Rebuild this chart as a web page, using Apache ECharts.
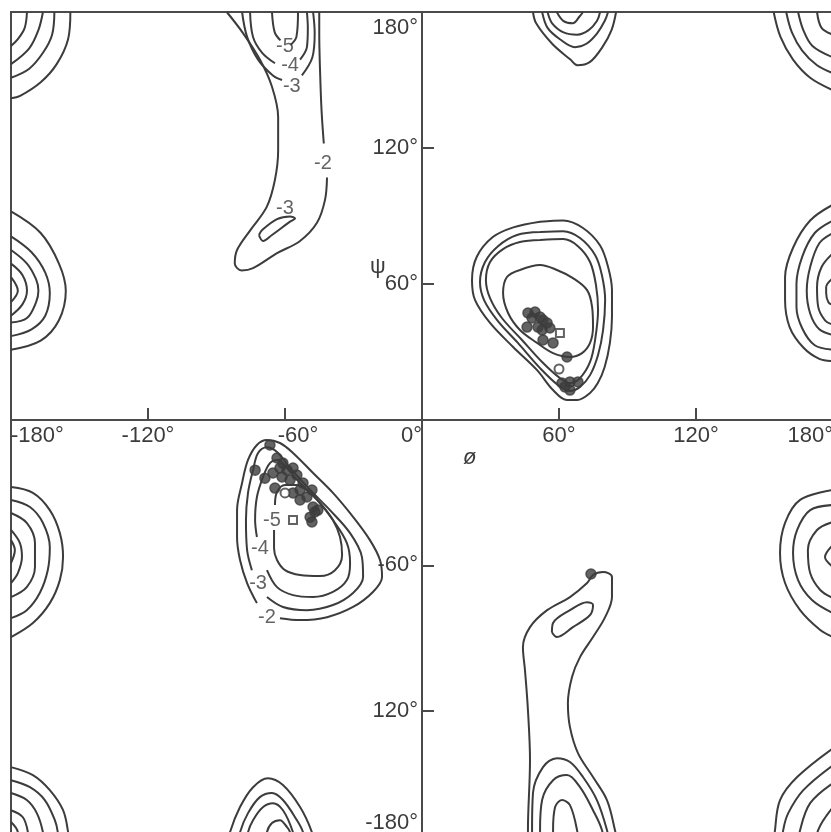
<!DOCTYPE html>
<html>
<head>
<meta charset="utf-8">
<script src="https://cdn.jsdelivr.net/npm/echarts@6/dist/echarts.min.js"></script>
<style>
  html, body { margin: 0; padding: 0; background: #fff; }
  #chart { width: 831px; height: 832px; }
</style>
</head>
<body>
<div id="chart"></div>
<script>
// tick labels
const xLeftTicks = { '-180': '-180°', '-120': '-120°', '-60': '-60°', 0: '0°' };
const xRightTicks = { 60: '60°', 120: '120°', 180: '180°' };
const yUpperTicks = { 60: '60°', 120: '120°', 180: '180°' };
const yLowerTicks = { '-60': '-60°', '-120': '120°', '-180': '-180°' };

// contours, points are [phi, psi]
// upper left quadrant
const cornerTopLeft = [
  [[-173, 180], [-174, 173], [-177, 168], [-180, 165]],
  [[-166, 180], [-168, 172], [-172, 164], [-180, 157]],
  [[-161, 180], [-162, 170], [-166, 162], [-172, 155], [-180, 151]],
  [[-154, 180], [-155, 168], [-160, 157], [-167, 149], [-176, 143], [-180, 142]]
];
const edgeLeftUpper = [
  [[-180, 92], [-167, 82.5], [-159, 69], [-156, 57], [-159, 44], [-167, 35], [-180, 31]],
  [[-180, 81], [-171, 74], [-165, 65], [-163, 56], [-165, 46], [-171, 40], [-180, 37]],
  [[-180, 75], [-173, 69], [-169, 62], [-168, 57], [-169, 52], [-173, 45], [-180, 43]],
  [[-180, 69], [-175, 64], [-173, 57], [-175, 51], [-180, 46]],
  [[-180, 63], [-177, 57], [-180, 52]]
];
const topPhiM60 = [
  // -2 (split around its label)
  [[-85.5, 180], [-78.4, 170.7], [-71, 159], [-65.7, 147], [-63, 133.6], [-63, 119], [-64.4, 106], [-68, 94],
   [-75, 84], [-81, 75], [-82, 69], [-79, 66], [-74, 67], [-63.5, 73.6], [-53.4, 79], [-46, 87], [-42.5, 97], [-41.6, 107]],
  [[-43, 122], [-44, 136.7], [-44.7, 155.7], [-45, 170.7], [-45, 180]],
  // -3 small loop
  [[-71.4, 81.6], [-70, 83.8], [-63.5, 88.6], [-57.8, 89.8], [-55.6, 88.9], [-57.8, 87.5], [-65.7, 81.6], [-69.6, 79], [-71.4, 81.6]],
  // -3
  [[-78.8, 180], [-76.6, 169], [-71.8, 159], [-65.3, 152], [-61.3, 150]],
  [[-52.6, 152], [-48, 160], [-47, 170.7], [-47.7, 180]],
  // -4
  [[-75.3, 180], [-74, 169], [-70, 162], [-64.4, 157.4]],
  [[-53.4, 159], [-50.4, 164.5], [-50, 173], [-50.4, 180]],
  // -5
  [[-65.7, 180], [-64.5, 171], [-62, 167.5]],
  [[-57.5, 165.5], [-55, 169], [-54.3, 180]]
];

// upper right quadrant
const cornerTopRight = [
  [[154, 180], [157, 169], [162.5, 159], [170, 151], [180, 145.5]],
  [[159.5, 180], [162, 171], [166.5, 163], [173, 156.5], [180, 153]],
  [[164.7, 180], [167, 172], [171, 165], [180, 160]],
  [[173, 180], [175, 173], [180, 170]]
];
const edgeRightUpper = [
  [[180, 95], [170, 88], [162.5, 76], [159, 63], [159, 53], [161, 41], [167, 32], [174, 27], [180, 26]],
  [[180, 88], [172, 82.5], [166.5, 72], [164, 60], [164, 50], [166.5, 40.5], [172, 33], [180, 31]],
  [[180, 82.5], [174, 78], [170, 67.5], [168.5, 57], [170, 47], [174, 40], [180, 37.5]],
  [[180, 73.6], [175, 67.5], [173, 58.6], [173.5, 50], [176.5, 44], [180, 42]],
  [[180, 62.6], [177, 58.6], [177, 56], [178, 52], [180, 50.7]]
];
const topPhi60 = [
  [[48.6, 180], [50, 175], [57, 166], [65, 159], [68, 156.5], [73.6, 158], [79, 164.5], [83, 172], [85, 180]],
  [[52.6, 180], [55, 173], [60.4, 168], [67, 164.5], [72, 166], [76.6, 170.5], [80, 176], [81.5, 180]],
  [[55, 180], [57, 175], [62, 171], [68, 170], [73, 172], [76.6, 176], [78, 180]],
  [[59, 180], [62, 176], [66, 175], [69, 178], [70.5, 180]]
];
const leftHanded = [
  [[51.7, 87.5], [61.8, 88], [70.5, 84.7], [78, 77], [81.5, 67.5], [83.2, 57.3], [83.2, 45.4], [82.3, 34], [80, 23.4],
   [77, 16.3], [73.6, 11.9], [68, 8.8], [63.5, 8.8], [57.4, 13.2], [50.4, 22], [39.9, 32.2], [29.8, 42.8], [23.2, 53],
   [21.9, 61.7], [24, 72], [31, 80.7], [40, 85], [51.7, 87.5]],
  [[51.7, 82.9], [61.8, 83.3], [69.2, 80.3], [75.8, 72.8], [78.8, 63.9], [80.2, 52.9], [79.3, 39.7], [77.1, 28.7],
   [73.6, 19.8], [69.2, 14.6], [64.8, 12.8], [59.6, 15.4], [51.7, 22.9], [42, 34], [32.9, 44.1], [27.2, 52.9],
   [25.4, 60.9], [27.6, 69.7], [33.3, 76.7], [41.6, 81.6], [51.7, 82.9]],
  [[51.7, 79.4], [61.8, 79.8], [68.3, 76.7], [73.6, 69.7], [76.2, 59.5], [77.1, 48.5], [75.8, 35.3], [73.6, 25.6],
   [69.2, 18.5], [64.8, 16.3], [60.4, 18.5], [52.6, 25.6], [43.8, 35.3], [35, 45], [29.8, 53.8], [28, 61.7],
   [29.8, 69.7], [35.5, 75.4], [42.9, 78.5], [51.7, 79.4]],
  [[42.9, 66.2], [51.7, 68.4], [59.1, 66.2], [66.1, 62.6], [72.3, 57.3], [74.5, 49.8], [74.9, 41], [73.6, 34],
   [70.1, 29.5], [64.8, 27.8], [57.4, 29.5], [50.4, 34], [42.9, 39.7], [37.7, 47.2], [35.5, 56], [37.2, 63.1], [42.9, 66.2]]
];

// lower left quadrant
const alphaRegion = [
  // -2
  [[-62.2, -81.8], [-53.4, -82.6], [-41.6, -81.4], [-30.2, -77.2], [-21.5, -71], [-17.5, -64.8], [-18.4, -57.8],
   [-22.8, -49.6], [-30.2, -40], [-39, -30.1], [-47.7, -21.9], [-56.5, -13.6], [-62.2, -9.5], [-67.9, -8.3],
   [-72.3, -10.3], [-76.2, -16.5], [-78.8, -26], [-81, -37.2], [-81, -48.3], [-79.7, -57.8], [-76.6, -67.3], [-72.3, -75.6]],
  // -3
  [[-67.9, -73.1], [-60.9, -77.2], [-50.4, -78.5], [-39, -76.4], [-30.2, -71.4], [-25.8, -64.8], [-26.3, -56.6],
   [-31.5, -46.7], [-40.3, -37.2], [-49, -28.9], [-57.8, -19.8], [-63.5, -13.2], [-67.9, -11.2], [-71.8, -13.6],
   [-74, -20.7], [-76.2, -30.1], [-77.1, -41.3], [-76.6, -53.7], [-74.5, -62]],
  // -4
  [[-67.9, -62], [-63.5, -69], [-56.5, -72.3], [-47.7, -73.1], [-39, -71], [-32.9, -66.1], [-31.5, -59.1],
   [-32.9, -50.8], [-39, -41.3], [-46, -33], [-53.4, -26], [-59.1, -19.8], [-63.1, -16.5], [-66.6, -17.8],
   [-69.6, -23.5], [-72.3, -31.8], [-73.1, -41.3], [-72.3, -48.3]],
  // -5
  [[-64.8, -45.4], [-64.8, -52.9], [-63.5, -57.8], [-60, -62], [-53.4, -64], [-44.7, -64.4], [-38.1, -62],
   [-35, -55.8], [-35.9, -48.3], [-39, -41.3], [-43.8, -35.1], [-49, -30.1], [-54.8, -26.8], [-60, -26.8],
   [-63.5, -29.7], [-64.4, -35.1]]
];
const edgeLeftLower = [
  [[-180, -27.7], [-170.4, -30.1], [-163, -37.2], [-158.6, -46.7], [-157.2, -56.6], [-158.6, -66.1], [-163, -75.6], [-170.4, -83.8], [-180, -89.6]],
  [[-180, -33], [-171.7, -35.9], [-166, -42.5], [-163, -52.5], [-163.9, -62], [-167.4, -71.4], [-173.1, -78.5], [-180, -81.8]],
  [[-180, -38.4], [-173.1, -42.5], [-169.5, -50.8], [-169.5, -60.7], [-173.1, -69], [-180, -73.1]],
  [[-180, -45.4], [-176.1, -50.8], [-175.2, -56.6], [-177, -63.2], [-180, -67.3]],
  [[-180, -49.6], [-178.3, -53.7], [-180, -59.1]]
];
const cornerBottomLeft = [
  [[-180, -143.3], [-170.4, -146.6], [-163, -152.8], [-157.2, -161.1], [-155, -170.2], [-154.1, -180]],
  [[-180, -148.7], [-171.7, -151.6], [-165.2, -156.9], [-160.8, -165.2], [-159.5, -170.2], [-158.6, -180]],
  [[-180, -154], [-173.1, -156.9], [-168.7, -162.3], [-166, -170.2], [-164.7, -180]],
  [[-180, -161.1], [-174.8, -164], [-172.6, -170.2], [-171.7, -180]],
  [[-180, -166], [-177, -170.2], [-176.5, -180]]
];
const bottomPhiM60 = [
  [[-86.3, -180], [-84.1, -170.2], [-79.7, -159.8], [-74, -151.6], [-67.5, -147.9], [-60.9, -150.7], [-53.4, -159.8], [-48.2, -170.2], [-45.6, -180]],
  [[-81.5, -180], [-79.7, -170.2], [-76.2, -162.3], [-71, -155.7], [-65.7, -154], [-60.9, -156.9], [-54.8, -165.2], [-52.1, -170.2], [-49.9, -180]],
  [[-77.5, -180], [-76.2, -170.2], [-74, -165.2], [-69.6, -159.8], [-65.3, -158.2], [-60.9, -161.1], [-56.5, -170.2], [-54.3, -180]],
  [[-68.8, -180], [-67.9, -170.2], [-65.7, -166.4], [-62.2, -165.2], [-59.1, -168.1], [-57.8, -170.2], [-56.5, -180]]
];

// lower right quadrant
const edgeRightLower = [
  [[180, -28.9], [165.6, -33], [159, -42.5], [156.8, -54.9], [159, -67.3], [165.6, -78.5], [174.4, -86.7], [180, -89.6]],
  [[180, -35.1], [170, -37.2], [164.3, -45.4], [162.5, -54.9], [164.7, -66.1], [170.8, -74.3], [180, -79.7]],
  [[180, -42.1], [173, -45.4], [169, -53.7], [170, -63.2], [174.4, -70.2], [180, -73.5]],
  [[180, -51.6], [176.5, -56.6], [180, -60.7]]
];
const cornerBottomRight = [
  [[180, -135.5], [164.3, -147.4], [156.8, -156.9], [154.6, -169.3], [153.7, -180]],
  [[180, -142.5], [167, -152.8], [160.4, -162.3], [158.2, -169.3], [157, -180]],
  [[180, -149.9], [170, -158.2], [165.6, -169.3], [164, -180]],
  [[180, -159.8], [173.5, -169.3], [172, -180]]
];
const bottomPhi60 = [
  [[46.4, -180], [46.4, -169.3], [47.3, -140.4], [46.4, -119.8], [45.1, -103.3], [44.2, -93.8], [47.3, -85.5],
   [54.8, -78.5], [64.8, -73.1], [72.3, -67.3], [74.9, -64], [79.3, -62.8], [83.2, -64.8], [83.2, -73.1],
   [80.2, -81.4], [74.9, -89.6], [69.2, -97.9], [65.7, -106.1], [63.9, -116.9], [64.8, -126.8], [68.3, -137.5],
   [74.9, -147.4], [81, -156.9], [84.5, -169.3], [86.7, -180]],
  [[56.9, -87.6], [57.4, -83.8], [64.8, -78.5], [72.3, -75.2], [74.9, -76.4], [73.6, -80.5], [66.1, -85.5], [59.1, -89.6], [56.9, -87.6]],
  [[48.2, -180], [48.2, -169.3], [48.6, -154], [53, -143.3], [59.1, -139.6], [64.8, -141.2], [70.5, -147.4], [76.6, -156.9], [81, -169.3], [83.2, -180]],
  [[51.7, -180], [51.7, -169.3], [52.6, -156.9], [57.4, -148.7], [63.5, -146.6], [69.2, -151.6], [74.9, -161.1], [78.8, -169.3], [80.6, -180]],
  [[57.4, -180], [57.4, -169.3], [58.3, -159.8], [61.3, -156.9], [64.8, -159], [67.9, -169.3], [69.2, -180]]
];

// contour level labels [phi, psi, text]
const upperLevelLabels = [[-60, 165, '-5'], [-57.8, 156.6, '-4'], [-57, 147, '-3'], [-43.4, 113.3, '-2'], [-60, 93.5, '-3']];
const lowerLevelLabels = [[-65.7, -41.3, '-5'], [-71, -52.9, '-4'], [-71.8, -67.3, '-3'], [-67.9, -81.4, '-2']];

// observed conformations
const leftHandedDots = [[46.4, 47.2], [49.5, 47.6], [51.7, 45.4], [48.2, 45], [46, 41], [53, 44.1], [54.8, 42.8],
  [52.6, 39.7], [56, 40.6], [57.4, 34], [53, 35.3], [50.8, 41], [63.5, 27.8], [61.3, 16.3], [64.8, 16.8],
  [68.3, 16.8], [64.8, 13.2], [62.6, 14.6]];
const leftHandedOpen = [[60, 22.5]];
const leftHandedSquare = [[60.4, 38.4]];
const alphaDots = [[-66.6, -10.3], [-73.1, -20.7], [-68.8, -24], [-63.5, -15.7], [-62.2, -19.8], [-59.1, -20.7],
  [-56.5, -19.8], [-64.4, -28.1], [-61.3, -23.5], [-57.8, -24.8], [-54.8, -22.7], [-53.4, -28.9], [-52.1, -26],
  [-50.4, -31.8], [-48.2, -28.9], [-53.4, -33], [-47.7, -35.9], [-45.6, -37.2], [-49, -40.1], [-48.2, -42.1],
  [-46.9, -38], [-65.3, -21.9], [-60.9, -17.8], [-56.5, -30.1]];
const alphaOpen = [[-60, -30.1]];
const alphaSquare = [[-56.5, -41.3]];
const lowerRightDots = [[74, -63.6]];

const ink = '#3c3c3c';
const frame = '#4a4a4a';
const font = 'Liberation Sans, Arial, sans-serif';

const chart = echarts.init(document.getElementById('chart'));

// quadrant grids: 0 upper left, 1 upper right, 2 lower left, 3 lower right
const lineSeries = (curves, q) => curves.map(points => ({
  type: 'line',
  xAxisIndex: q,
  yAxisIndex: q,
  data: points,
  smooth: 0.35,
  symbol: 'none',
  silent: true,
  lineStyle: { color: ink, width: 2 }
}));

const dotSeries = (points, q, symbol, size) => ({
  type: 'scatter',
  xAxisIndex: q,
  yAxisIndex: q,
  data: points,
  symbol: symbol,
  symbolSize: size,
  silent: true,
  itemStyle: { color: ink, borderColor: ink, borderWidth: 1.5 }
});

const labelSeries = (items, q) => ({
  type: 'scatter',
  xAxisIndex: q,
  yAxisIndex: q,
  data: items,
  symbolSize: 1,
  itemStyle: { color: 'transparent' },
  silent: true,
  label: {
    show: true,
    position: 'inside',
    formatter: p => p.value[2],
    color: ink,
    fontFamily: font,
    fontSize: 20,
    backgroundColor: '#fff',
    padding: [0, 1]
  }
});

const axisLineStyle = { color: frame, width: 2 };
const tickText = { color: ink, fontFamily: font, fontSize: 22 };
const gridBase = { show: true, borderColor: frame, borderWidth: 2, containLabel: false, outerBoundsMode: 'none' };

const hiddenAxis = (q, min, max) => ({ gridIndex: q, type: 'value', min, max, interval: 60, show: false });

const phiAxis = (q, min, max, labels, extra) => ({
  gridIndex: q, type: 'value', min, max, interval: 60, position: 'top',
  axisLine: { show: true, onZero: false, lineStyle: axisLineStyle },
  axisTick: { show: true, inside: false, length: 12, lineStyle: axisLineStyle },
  splitLine: { show: false },
  axisLabel: Object.assign({
    inside: true, margin: 5, ...tickText,
    formatter: v => labels[v] || ''
  }, extra)
});

const psiAxis = (q, min, max, labels, extra) => ({
  gridIndex: q, type: 'value', min, max, interval: 60, position: 'left',
  axisLine: { show: true, onZero: false, lineStyle: axisLineStyle },
  axisTick: { show: true, inside: true, length: 12, lineStyle: axisLineStyle },
  splitLine: { show: false },
  axisLabel: Object.assign({ margin: 4, ...tickText, formatter: v => labels[v] || '' }, extra)
});

const option = {
  animation: false,
  backgroundColor: '#fff',
  grid: [
    { ...gridBase, left: 11, top: 12, width: 411, height: 408 },
    { ...gridBase, left: 422, top: 12, width: 411, height: 408 },
    { ...gridBase, left: 11, top: 420, width: 411, height: 436 },
    { ...gridBase, left: 422, top: 420, width: 411, height: 436 }
  ],
  xAxis: [
    hiddenAxis(0, -180, 0),
    hiddenAxis(1, 0, 180),
    phiAxis(2, -180, 0, xLeftTicks, {
      alignMinLabel: 'left', alignMaxLabel: 'right',
      formatter: v => v === -60 ? '{s|' + xLeftTicks[v] + '}' : (xLeftTicks[v] || ''),
      rich: { s: { ...tickText, padding: [0, 0, 0, 26] } }
    }),
    phiAxis(3, 0, 180, xRightTicks, { showMinLabel: false, alignMaxLabel: 'right' })
  ],
  yAxis: [
    hiddenAxis(0, 0, 180),
    psiAxis(1, 0, 180, yUpperTicks, {
      showMinLabel: false, verticalAlignMaxLabel: 'top',
      formatter: v => v === 180 ? '{t|' + yUpperTicks[v] + '}' : (yUpperTicks[v] || ''),
      rich: { t: { ...tickText, padding: [5, 0, 0, 0] } }
    }),
    hiddenAxis(2, -180, 0),
    psiAxis(3, -180, 0, yLowerTicks, {
      showMaxLabel: false,
      formatter: v => v === -180 ? '{b|' + yLowerTicks[v] + '}' : (yLowerTicks[v] || ''),
      rich: { b: { ...tickText, padding: [0, 0, 66, 0] } }
    })
  ],
  graphic: [
    { type: 'text', left: 370, top: 256, style: { text: 'ψ', fill: ink, font: '22px ' + font } },
    { type: 'text', left: 463, top: 447, style: { text: 'ø', fill: ink, font: 'italic 22px ' + font } }
  ],
  series: [].concat(
    lineSeries([].concat(cornerTopLeft, edgeLeftUpper, topPhiM60), 0),
    lineSeries([].concat(cornerTopRight, edgeRightUpper, topPhi60, leftHanded), 1),
    lineSeries([].concat(alphaRegion, edgeLeftLower, cornerBottomLeft, bottomPhiM60), 2),
    lineSeries([].concat(edgeRightLower, cornerBottomRight, bottomPhi60), 3),
    [
      dotSeries(leftHandedDots, 1, 'circle', 10),
      dotSeries(leftHandedOpen, 1, 'emptyCircle', 9),
      dotSeries(leftHandedSquare, 1, 'emptyRect', 8),
      dotSeries(alphaDots, 2, 'circle', 10),
      dotSeries(alphaOpen, 2, 'emptyCircle', 9),
      dotSeries(alphaSquare, 2, 'emptyRect', 8),
      dotSeries(lowerRightDots, 3, 'circle', 10),
      labelSeries(upperLevelLabels, 0),
      labelSeries(lowerLevelLabels, 2)
    ]
  )
};

chart.setOption(option);
</script>
</body>
</html>
